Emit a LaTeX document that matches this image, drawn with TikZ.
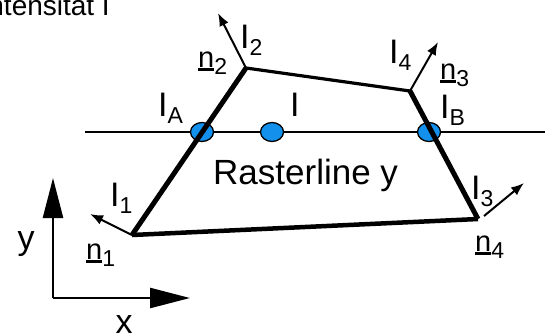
\documentclass[tikz,border=0pt]{standalone}
\usepackage{fontspec}
\setmainfont{Liberation Sans}
\usetikzlibrary{positioning,arrows.meta,shapes.geometric}
\definecolor{dotblue}{HTML}{1290EC}
\tikzset{
  edge thick/.style={line width=5pt},
  edge thin/.style={line width=3.2pt},
  normal arrow/.style={-{Latex[length=13pt,width=10pt]}, line width=2pt},
  axis arrow/.style={-{Triangle[length=40pt,width=20pt]}, line width=2.5pt},
  sample/.style={ellipse,draw=black,line width=1.3pt,fill=dotblue,minimum width=23pt,minimum height=19pt,inner sep=0},
  lbl/.style={inner sep=0,anchor=base west,font=\fontsize{34}{34}\selectfont},
  nlbl/.style={inner sep=0,anchor=base west,font=\fontsize{29}{29}\selectfont}
}
\newcommand{\lsub}[1]{\raisebox{-7pt}{\fontsize{23}{23}\selectfont #1}}
\newcommand{\normvec}{\setbox0\hbox{n}\rlap{\rule[-3.5pt]{\wd0}{2.3pt}}\box0}

\begin{document}
\begin{tikzpicture}[x=1pt,y=-1pt]
  \useasboundingbox (0,0) rectangle (545,333);

  % Polygon corners
  \coordinate (p1) at (132,235);
  \coordinate (p2) at (246,68);
  \coordinate (p4) at (410,91);
  \coordinate (p3) at (478,219);

  % Raster line
  \coordinate (rl) at (85,132);
  \coordinate (rr) at (545,132);
  \draw[line width=2.2pt] (rl) -- (rr);

  % Sample points
  \node[sample] (ia) at (202,132) {};
  \node[sample] (ip) at (272,132) {};
  \node[sample] (ib) at (429,132) {};

  % Edges
  \draw[edge thick] (p1) -- (p2);
  \draw[edge thin] (p2) -- (p4);
  \draw[edge thick] (p4) -- (p3);
  \draw[line width=4.5pt] (p3) -- (p1);

  % Normals
  \coordinate (n1) at (90,214);
  \coordinate (n2) at (218,13);
  \coordinate (n3) at (438,42);
  \coordinate (n4s) at (484,216);
  \coordinate (n4) at (524,183);
  \draw[normal arrow] (p1) -- (n1);
  \draw[normal arrow] (p2) -- (n2);
  \draw[normal arrow] (p4) -- (n3);
  \draw[normal arrow] (n4s) -- (n4);

  % Labels
  \node[lbl] (l2) at (240,48) {I\lsub{2}};
  \node[nlbl] (m2) at (198,67) {\normvec\lsub{2}};
  \node[lbl] (la) at (158,116) {I\lsub{A}};
  \node[lbl] (li) at (290,116) {I};
  \node[lbl] (l4) at (389,63) {I\lsub{4}};
  \node[nlbl] (m3) at (440,79) {\normvec\lsub{3}};
  \node[lbl] (lb) at (440,118) {I\lsub{B}};
  \node[lbl] (l1) at (110,206) {I\lsub{1}};
  \node[nlbl] (m1) at (86,259) {\normvec\lsub{1}};
  \node[lbl] (l3) at (471,199) {I\lsub{3}};
  \node[nlbl] (m4) at (475,251) {\normvec\lsub{4}};
  \node[inner sep=0,anchor=base west,font=\fontsize{35}{35}\selectfont] (rast) at (213,184) {Rasterline y};
  \node[inner sep=0,anchor=base east,font=\fontsize{28}{28}\selectfont] (title) at (110,15) {Intensität I};

  % Axes
  \coordinate (o) at (53,298);
  \coordinate (ay) at (53,178);
  \coordinate (ax) at (190,298);
  \draw[axis arrow] (o) -- (ay);
  \draw[axis arrow] (o) -- (ax);
  \node[inner sep=0,anchor=base,font=\fontsize{34}{34}\selectfont] (ylab) at (26,249) {y};
  \node[inner sep=0,anchor=base,font=\fontsize{34}{34}\selectfont] (xlab) at (124,333) {x};
\end{tikzpicture}
\end{document}
